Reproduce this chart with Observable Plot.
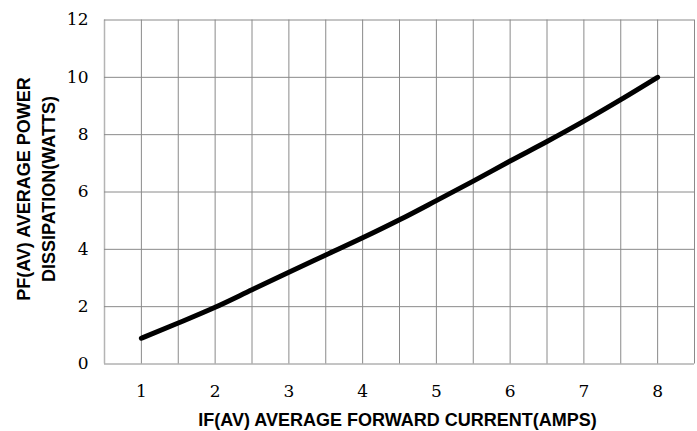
<!DOCTYPE html>
<html>
<head>
<meta charset="utf-8">
<script src="https://cdn.jsdelivr.net/npm/d3@7"></script>
<script src="https://cdn.jsdelivr.net/npm/@observablehq/plot@0.6"></script>
<style>
  html, body { margin: 0; padding: 0; background: #fff; }
  #chart { width: 697px; height: 431px; }
</style>
</head>
<body>
<div id="chart"></div>
<script>
// Average forward current (A)
const current = [1, 1.5, 2, 2.5, 3, 3.5, 4, 4.5, 5, 5.5, 6, 6.5, 7, 7.5, 8];
// Average power dissipation (W)
const power = [0.9, 1.43, 1.98, 2.59, 3.2, 3.8, 4.4, 5.03, 5.7, 6.38, 7.08, 7.76, 8.47, 9.22, 10.0];

const xTicks = [1, 2, 3, 4, 5, 6, 7, 8];
const yTicks = [0, 2, 4, 6, 8, 10, 12];
const xGrid = [0.5, 1, 1.5, 2, 2.5, 3, 3.5, 4, 4.5, 5, 5.5, 6, 6.5, 7, 7.5, 8, 8.5];

const xTitle = "IF(AV) AVERAGE FORWARD CURRENT(AMPS)";
const yTitle = "PF(AV) AVERAGE POWER\nDISSIPATION(WATTS)";

const data = current.map((c, i) => ({c, p: power[i]}));

const chart = Plot.plot({
  width: 697,
  height: 431,
  marginLeft: 104,
  marginRight: 3,
  marginTop: 19.5,
  marginBottom: 67.5,
  x: {domain: [0.5, 8.5]},
  y: {domain: [0, 12]},
  style: {background: "#fff", fontFamily: "DejaVu Serif", fontSize: "17px", color: "#000"},
  marks: [
    Plot.ruleX(xGrid.filter(v => v !== 0.5), {stroke: "#8a8a8a", strokeWidth: 1, strokeOpacity: 1}),
    Plot.ruleX([0.5], {stroke: "#b4b4b4", strokeWidth: 1.5, strokeOpacity: 1}),
    Plot.ruleY(yTicks, {stroke: "#8a8a8a", strokeWidth: 1, strokeOpacity: 1}),
    Plot.axisX({ticks: xTicks, tickSize: 0, tickPadding: 21, label: null,
      fontSize: 17, fontFamily: "DejaVu Serif", fill: "#000", tickFormat: d => String(d)}),
    Plot.axisY({ticks: yTicks, tickSize: 0, tickPadding: 16, label: null,
      fontSize: 17, fontFamily: "DejaVu Serif", fill: "#000", tickFormat: d => String(d)}),
    Plot.line(data, {x: "c", y: "p", stroke: "#000", strokeWidth: 5,
      curve: "monotone-x", strokeLinecap: "round", strokeLinejoin: "round"}),
    Plot.text([xTitle], {frameAnchor: "bottom", dy: 56, dx: -2, lineAnchor: "middle",
      fontSize: 18, fontWeight: "bold", fontFamily: "Liberation Sans", fill: "#000"}),
    Plot.text([yTitle], {frameAnchor: "left", dx: -70, dy: -3, rotate: -90,
      lineAnchor: "middle", lineHeight: 1.4, textAnchor: "middle",
      fontSize: 18, fontWeight: "bold", fontFamily: "Liberation Sans", fill: "#000"})
  ]
});
document.getElementById("chart").appendChild(chart);
</script>
</body>
</html>
